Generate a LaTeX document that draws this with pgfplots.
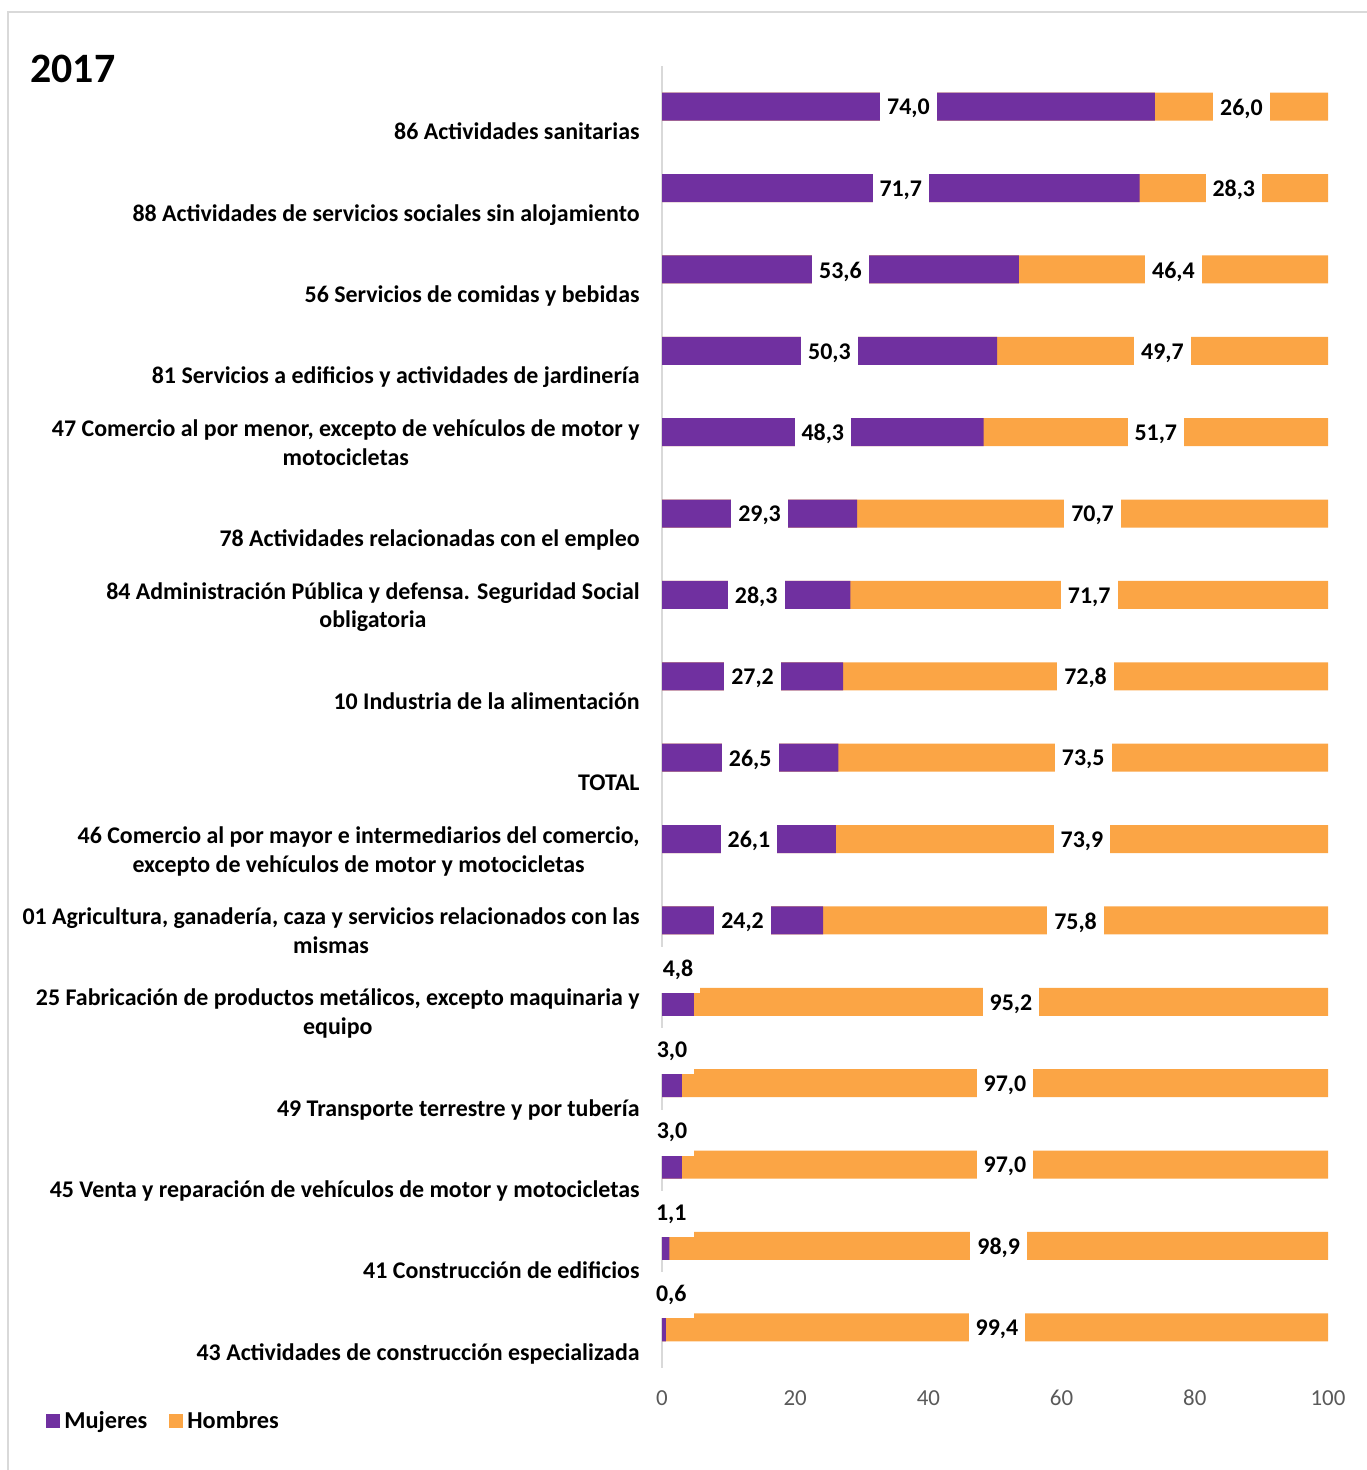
\documentclass[border=0pt]{standalone}
\usepackage{fontspec}
\setmainfont{Carlito}
\usepackage{pgfplots}
\usepackage{pgfplotstable}
\pgfplotsset{compat=1.18}

\definecolor{muj}{HTML}{7030A0}
\definecolor{hom}{HTML}{FBA545}
\definecolor{tickgray}{HTML}{595959}
\definecolor{framegray}{HTML}{D9D9D9}

% y = posición de la categoría (0 arriba), m = Mujeres, h = Hombres (%)
\pgfplotstableread{
y m h
0 74.0 26.0
1 71.7 28.3
2 53.6 46.4
3 50.3 49.7
4 48.3 51.7
5 29.3 70.7
6 28.3 71.7
7 27.2 72.8
8 26.5 73.5
9 26.1 73.9
10 24.2 75.8
11 4.8 95.2
12 3.0 97.0
13 3.0 97.0
14 1.1 98.9
15 0.6 99.4
}\datos

\pgfplotsset{
    etiq/.style={
        draw=none, forget plot, point meta=explicit,
        nodes near coords={\pgfmathprintnumber[fixed, fixed zerofill, precision=1, use comma, assume math mode=true]{\pgfplotspointmeta}},
        every node near coord/.append style={anchor=center, fill=white, text=black,
            inner xsep=3.5bp, inner ysep=0pt, minimum height=23bp, yshift=-1bp,
            font=\bfseries\fontsize{12}{14}\selectfont},
    },
}

\begin{document}
\begin{tikzpicture}
\useasboundingbox (0,0) rectangle (683.5bp,-735bp);
\draw[framegray, line width=1bp] (4bp,-740bp) -- (4bp,-6bp) -- (690bp,-6bp);
\node[anchor=west, inner sep=0pt, font=\bfseries\fontsize{21}{25}\selectfont] at (15bp,-34.5bp) {2017};

\begin{axis}[
    at={(331bp,-684bp)}, anchor=south west,
    scale only axis, width=333bp, height=651bp,
    xmin=0, xmax=100, ymin=-0.5, ymax=15.5, y dir=reverse,
    clip=false,
    axis y line=left, axis x line=bottom,
    x axis line style={draw=none},
    y axis line style={draw=framegray, line width=1bp, -},
    major tick length=0pt,
    xtick={0,20,...,100},
    ytick={0,...,15},
    xticklabel style={anchor=center, yshift=-15bp, text=tickgray,
        font=\fontsize{11.5}{14}\selectfont, /pgf/number format/assume math mode=true},
    yticklabel style={anchor=south east, align=center, inner sep=0pt,
        xshift=-11bp, yshift=-21bp, font=\bfseries\fontsize{12}{14.5}\selectfont},
    yticklabels={
        {86 Actividades sanitarias\strut},
        {88 Actividades de servicios sociales sin alojamiento\strut},
        {56 Servicios de comidas y bebidas\strut},
        {81 Servicios a edificios y actividades de jardinería\strut},
        {47 Comercio al por menor, excepto de vehículos de motor y\\motocicletas\strut},
        {78 Actividades relacionadas con el empleo\strut},
        {84 Administración Pública y defensa. Seguridad Social\\obligatoria\strut},
        {10 Industria de la alimentación\strut},
        {TOTAL\strut},
        {46 Comercio al por mayor e intermediarios del comercio,\\excepto de vehículos de motor y motocicletas\strut},
        {01 Agricultura, ganadería, caza y servicios relacionados con las\\mismas\strut},
        {25 Fabricación de productos metálicos, excepto maquinaria y\\equipo\strut},
        {49 Transporte terrestre y por tubería\strut},
        {45 Venta y reparación de vehículos de motor y motocicletas\strut},
        {41 Construcción de edificios\strut},
        {43 Actividades de construcción especializada\strut}
    },
    legend style={at={(axis description cs:-0.925,-0.041)}, anchor=west,
        draw=none, fill=none, inner sep=0pt, legend columns=2,
        font=\bfseries\fontsize{12.2}{14}\selectfont,
        /tikz/every even column/.append style={column sep=9bp}},
    reverse legend,
    legend image code/.code={\fill[#1] (0bp,-3.5bp) rectangle (7bp,3.5bp);},
]
% Hombres (se dibuja hasta m+h = 100) y Mujeres encima
\addplot[xbar, bar width=14bp, bar shift=0pt, fill=hom, draw=none]
    table[x expr=\thisrow{m}+\thisrow{h}, y=y] {\datos};
\addlegendentry{Hombres}
\addplot[xbar, bar width=14bp, bar shift=0pt, fill=muj, draw=none]
    table[x=m, y=y] {\datos};
\addlegendentry{Mujeres}

% etiquetas Mujeres dentro de la barra
\addplot[etiq, skip coords between index={11}{16}]
    table[x expr=\thisrow{m}/2, y=y, meta=m] {\datos};
% etiquetas Mujeres pequeñas, encima de la barra
\addplot[etiq, skip coords between index={0}{11},
    every node near coord/.append style={yshift=17bp}]
    table[x expr={max(\thisrow{m}/2,1.4)}, y=y, meta=m] {\datos};
% etiquetas Hombres
\addplot[etiq]
    table[x expr=\thisrow{m}+\thisrow{h}/2, y=y, meta=h] {\datos};
\end{axis}
\end{tikzpicture}
\end{document}
